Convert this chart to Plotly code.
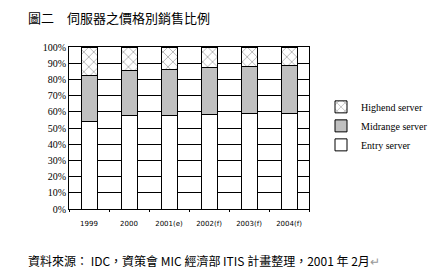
import plotly.graph_objects as go

years = ["1999", "2000", "2001(e)", "2002(f)", "2003(f)", "2004(f)"]
entry = [54, 57.5, 58, 58.5, 59, 59]
midrange = [28.5, 28, 28, 29, 29, 29.5]
highend = [100 - e - m for e, m in zip(entry, midrange)]
y_ticks = list(range(0, 101, 10))
y_labels = [f"{v}%" for v in y_ticks]

fig = go.Figure()
fig.add_bar(x=years, y=entry, name="Entry server",
            marker=dict(color="white", line=dict(color="black", width=1)))
fig.add_bar(x=years, y=midrange, name="Midrange server",
            marker=dict(color="#C0C0C0", line=dict(color="black", width=1)))
fig.add_bar(x=years, y=highend, name="Highend server",
            marker=dict(color="white", line=dict(color="black", width=1),
                        pattern=dict(shape="x", fgcolor="black", bgcolor="white",
                                     size=7, solidity=0.15)))

fig.update_layout(
    width=445, height=273,
    margin=dict(l=69, r=104, t=47, b=64),
    barmode="stack", bargap=0.6,
    paper_bgcolor="white", plot_bgcolor="white",
    showlegend=True,
    legend=dict(x=1.05, y=0.72, xanchor="left", yanchor="top",
                traceorder="reversed",
                font=dict(family="Liberation Serif", size=10, color="black"),
                itemwidth=30, tracegroupgap=0, bgcolor="rgba(0,0,0,0)"),
    font=dict(family="Liberation Serif", color="black"),
)
fig.update_yaxes(range=[0, 100], tickvals=y_ticks, ticktext=y_labels,
                 showgrid=True, gridcolor="black", gridwidth=1,
                 showline=True, linecolor="black", linewidth=1, mirror=True,
                 ticks="", tickfont=dict(family="Liberation Serif", size=10),
                 zeroline=False)
fig.update_xaxes(showline=True, linecolor="black", linewidth=1, mirror=True,
                 ticks="outside", ticklen=2, tickcolor="black", tickson="boundaries",
                 ticklabelstandoff=8,
                 tickfont=dict(family="DejaVu Sans", size=7), showgrid=False)

fig.add_annotation(text="圖二　伺服器之價格別銷售比例", xref="paper", yref="paper",
                   x=-49/272, y=1 + 30/162, xanchor="left", yanchor="middle",
                   showarrow=False,
                   font=dict(family="Noto Sans CJK TC", size=13, color="black"))
fig.add_annotation(text="資料來源： IDC，資策會 MIC 經濟部 ITIS 計畫整理，2001 年 2月<span style='color:#999'>↵</span>",
                   xref="paper", yref="paper",
                   x=-49/272, y=-51/162, xanchor="left", yanchor="middle",
                   showarrow=False,
                   font=dict(family="Noto Sans CJK TC", size=12, color="black"))

fig.write_html("out.html")
